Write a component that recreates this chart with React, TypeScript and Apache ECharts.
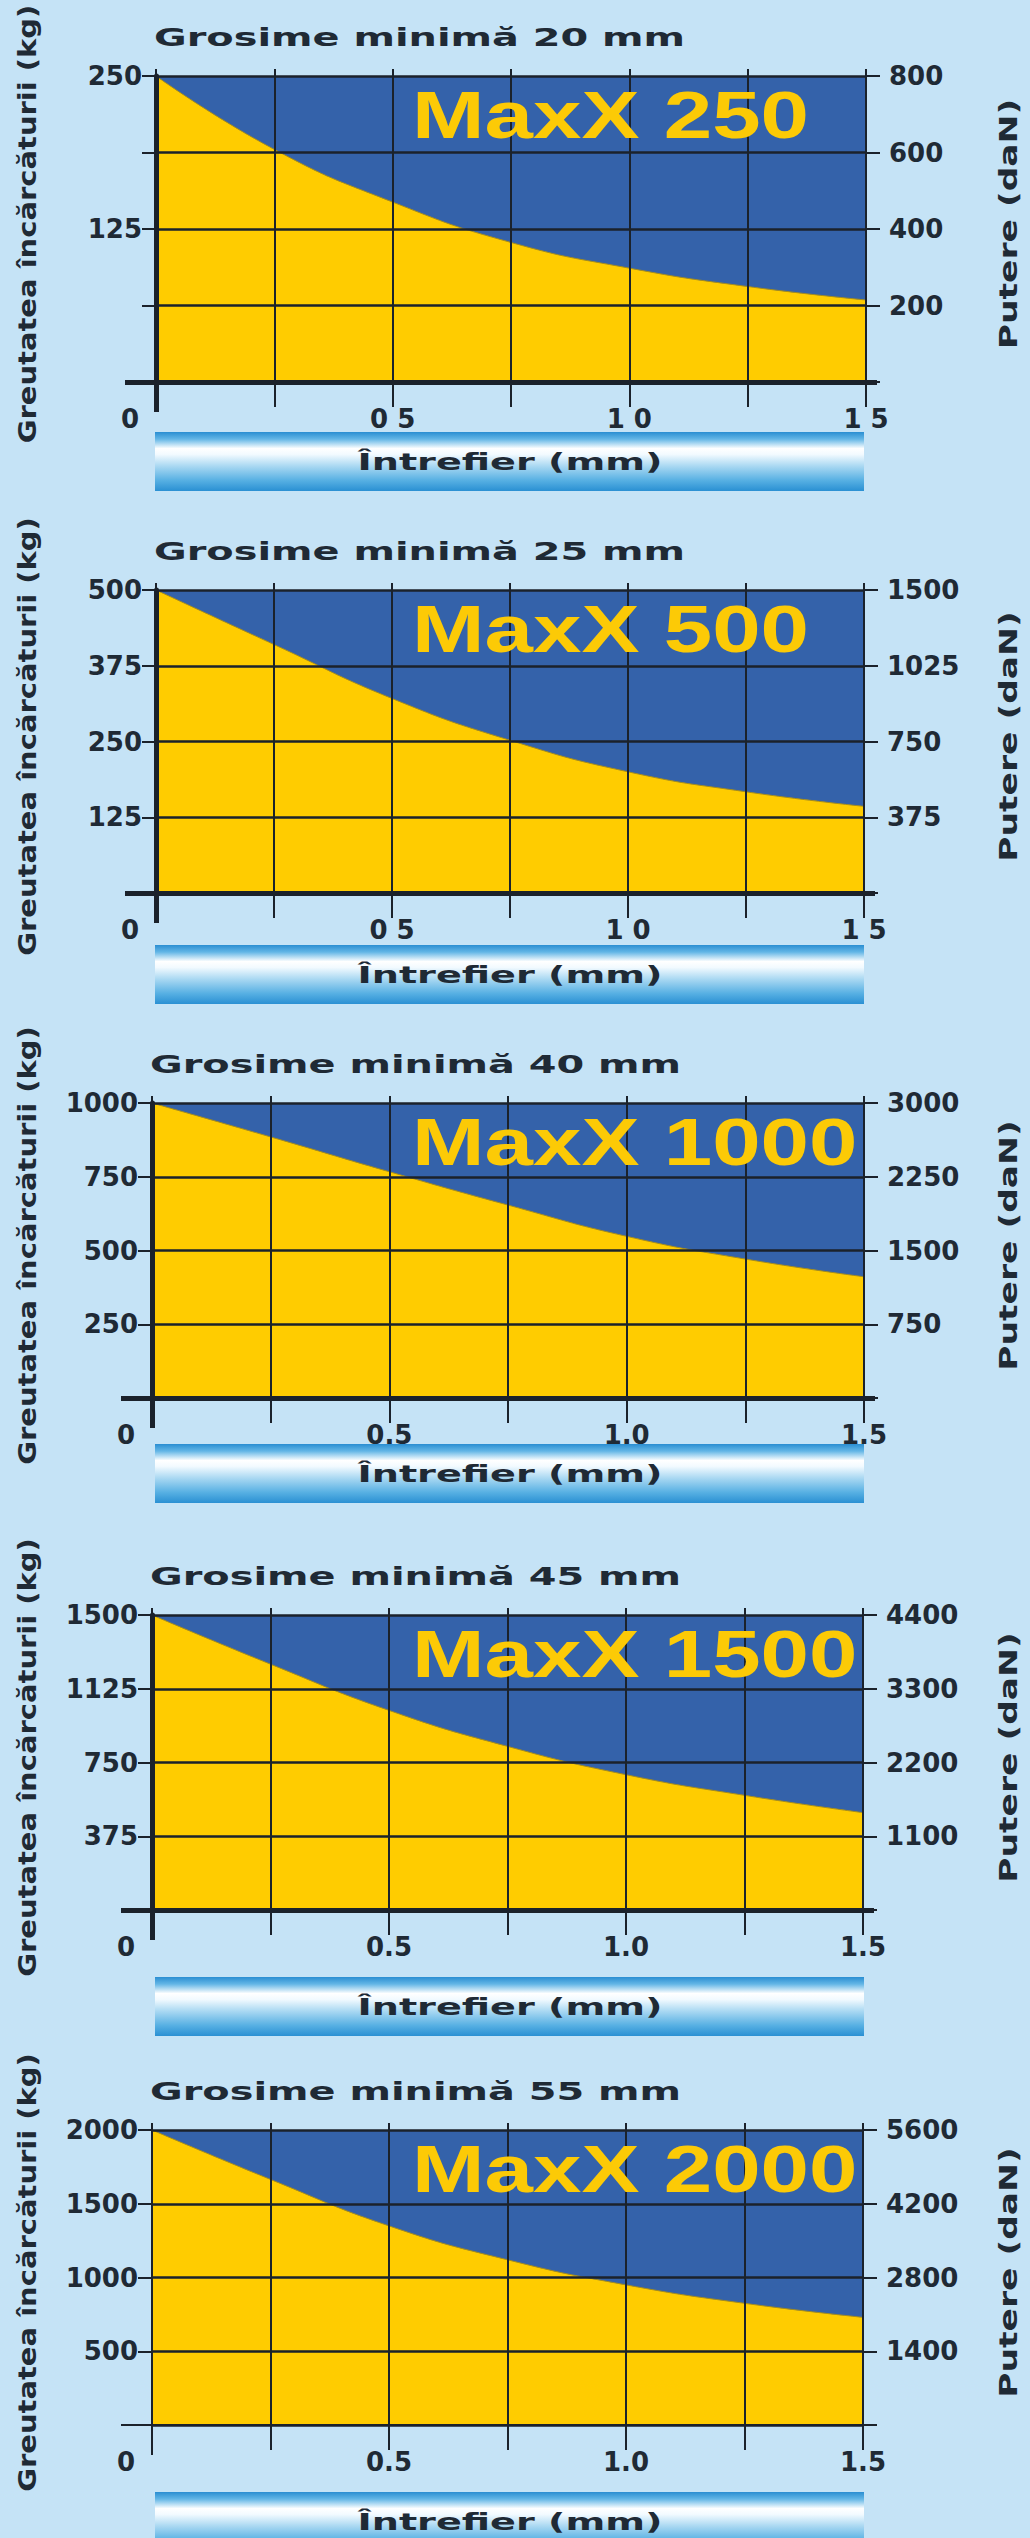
import React, { useEffect, useRef } from "react";
import * as echarts from "echarts";

// ---------- data ----------
const titles = [
  "Grosime minimă 20 mm",
  "Grosime minimă 25 mm",
  "Grosime minimă 40 mm",
  "Grosime minimă 45 mm",
  "Grosime minimă 55 mm",
];
const modelNames = ["MaxX 250", "MaxX 500", "MaxX 1000", "MaxX 1500", "MaxX 2000"];
const gapValues = [0, 0.25, 0.5, 0.75, 1.0, 1.25, 1.5];
const load250 = [250, 190, 147, 114, 93, 78, 67];
const load500 = [500, 410, 321, 252, 200, 167, 143];
const load1000 = [1000, 885, 767, 654, 548, 471, 411];
const load1500 = [1500, 1250, 1015, 832, 688, 583, 495];
const load2000 = [2000, 1665, 1350, 1120, 950, 825, 730];
const loads = [load250, load500, load1000, load1500, load2000];
const leftMax = [250, 500, 1000, 1500, 2000];
const leftTickLabels = [
  [125, 250],
  [125, 250, 375, 500],
  [250, 500, 750, 1000],
  [375, 750, 1125, 1500],
  [500, 1000, 1500, 2000],
];
const rightTickLabels = [
  ["", "200", "400", "600", "800"],
  ["", "375", "750", "1025", "1500"],
  ["", "750", "1500", "2250", "3000"],
  ["", "1100", "2200", "3300", "4400"],
  ["", "1400", "2800", "4200", "5600"],
];
const xTickValues = [0.5, 1.0, 1.5];
const xTickLabels = [
  ["0 5", "1 0", "1 5"],
  ["0 5", "1 0", "1 5"],
  ["0.5", "1.0", "1.5"],
  ["0.5", "1.0", "1.5"],
  ["0.5", "1.0", "1.5"],
];
const originLabel = "0";
const yAxisName = "Greutatea încărcăturii (kg)";
const y2AxisName = "Putere (daN)";
const xAxisName = "Întrefier (mm)";

// ---------- layout ----------
const gridLeft = [156, 156, 152, 152, 152];
const gridWidth = [710, 708, 712, 711, 711];
const gridTop = [76, 590, 1103, 1615, 2130];
const gridHeight = [306, 303, 295, 295, 295];
const barTop = [432, 945, 1444, 1977, 2492];
const axisW = [5, 5, 5, 5, 2];

const BG = "#c5e3f6";
const PLOT_BLUE = "#3462aa";
const YELLOW = "#ffcc00";
const DARK = "#1b222b";
const TEXT = "#1f2a35";
const TICK_FONT = "DejaVu Sans";
const HEAVY_FONT = "DejaVu Sans";
const MODEL_FONT = "Liberation Sans";

function buildOption() {
  const grid: any[] = [];
  const xAxis: any[] = [];
  const yAxis: any[] = [];
  const series: any[] = [];
  const graphic: any[] = [];

  const tickLabel = {
    fontFamily: TICK_FONT,
    fontWeight: "bold",
    fontSize: 26,
    color: TEXT,
  };

  const textStyle = (text: string, size: number, font: string, fill: string, align: string) => ({
    text,
    fill,
    fontFamily: font,
    fontWeight: "bold",
    fontSize: size,
    align,
    textAlign: align,
    verticalAlign: "middle",
    textVerticalAlign: "middle",
  });

  for (let i = 0; i < 5; i++) {
    grid.push({
      left: gridLeft[i],
      top: gridTop[i],
      width: gridWidth[i],
      height: gridHeight[i],
      show: true,
      backgroundColor: PLOT_BLUE,
      borderWidth: 0,
    });

    // main x axis
    xAxis.push({
      gridIndex: i,
      type: "value",
      min: 0,
      max: 1.5,
      interval: 0.25,
      position: "bottom",
      z: 3,
      axisLine: { show: true, onZero: false, lineStyle: { color: DARK, width: axisW[i] } },
      axisTick: { show: true, inside: false, length: 25, lineStyle: { color: DARK, width: 2 } },
      splitLine: { show: true, lineStyle: { color: DARK, width: 2 } },
      axisLabel: {
        ...tickLabel,
        margin: 24,
        showMinLabel: true,
        showMaxLabel: true,
        formatter: (v: number) => {
          const k = xTickValues.findIndex((t) => Math.abs(t - v) < 1e-6);
          return k >= 0 ? xTickLabels[i][k] : "";
        },
      },
    });
    // top extension ticks
    xAxis.push({
      gridIndex: i,
      type: "value",
      min: 0,
      max: 1.5,
      interval: 0.25,
      position: "top",
      z: 3,
      axisLine: { show: false, onZero: false },
      axisTick: { show: true, inside: false, length: 7, lineStyle: { color: DARK, width: 2 } },
      splitLine: { show: false },
      axisLabel: { show: false },
    });
    // bottom extension of the vertical axis + origin label
    xAxis.push({
      gridIndex: i,
      type: "value",
      min: 0,
      max: 1.5,
      interval: 1.5,
      position: "bottom",
      z: 4,
      axisLine: { show: false, onZero: false },
      axisTick: {
        show: true,
        inside: false,
        length: 30,
        customValues: [0],
        lineStyle: { color: DARK, width: axisW[i] },
      },
      splitLine: { show: false },
      axisLabel: {
        ...tickLabel,
        margin: 24,
        align: "right",
        padding: [0, 17, 0, 0],
        showMinLabel: true,
        showMaxLabel: true,
        formatter: (v: number) => (Math.abs(v) < 1e-6 ? originLabel : ""),
      },
    });

    // main left y axis
    yAxis.push({
      gridIndex: i,
      type: "value",
      min: 0,
      max: leftMax[i],
      interval: leftMax[i] / 4,
      position: "left",
      z: 3,
      axisLine: { show: true, onZero: false, lineStyle: { color: DARK, width: axisW[i] } },
      axisTick: { show: true, inside: false, length: 14, lineStyle: { color: DARK, width: 2 } },
      splitLine: { show: true, lineStyle: { color: DARK, width: 2.5 } },
      axisLabel: {
        ...tickLabel,
        margin: 14,
        padding: [10, 0, 0, 0],
        showMinLabel: true,
        showMaxLabel: true,
        formatter: (v: number) =>
          leftTickLabels[i].some((t) => Math.abs(t - v) < 1e-6) ? String(v) : "",
      },
    });
    // right y axis (Putere)
    yAxis.push({
      gridIndex: i,
      type: "value",
      min: 0,
      max: 4,
      interval: 1,
      position: "right",
      z: 3,
      axisLine: { show: false, onZero: false },
      axisTick: { show: true, inside: false, length: 14, lineStyle: { color: DARK, width: 2 } },
      splitLine: { show: false },
      axisLabel: {
        ...tickLabel,
        margin: 23,
        padding: [12, 0, 0, 0],
        showMinLabel: true,
        showMaxLabel: true,
        formatter: (v: number) => rightTickLabels[i][Math.round(v)] ?? "",
      },
    });
    // left extension of the horizontal axis
    yAxis.push({
      gridIndex: i,
      type: "value",
      min: 0,
      max: 1,
      interval: 1,
      position: "left",
      z: 4,
      axisLine: { show: false, onZero: false },
      axisTick: {
        show: true,
        inside: false,
        length: 31,
        customValues: [0],
        lineStyle: { color: DARK, width: axisW[i] },
      },
      splitLine: { show: false },
      axisLabel: { show: false },
    });
    // right extension of the horizontal axis
    yAxis.push({
      gridIndex: i,
      type: "value",
      min: 0,
      max: 1,
      interval: 1,
      position: "right",
      z: 4,
      axisLine: { show: false, onZero: false },
      axisTick: {
        show: true,
        inside: false,
        length: 11,
        customValues: [0],
        lineStyle: { color: DARK, width: axisW[i] },
      },
      splitLine: { show: false },
      axisLabel: { show: false },
    });

    series.push({
      type: "line",
      xAxisIndex: 3 * i,
      yAxisIndex: 4 * i,
      data: gapValues.map((x, k) => [x, loads[i][k]]),
      smooth: 0.5,
      symbol: "none",
      silent: true,
      z: 2,
      lineStyle: { color: "#a48c1e", width: 1 },
      areaStyle: { color: YELLOW, opacity: 1 },
    });

    const cy = gridTop[i] + gridHeight[i] / 2 - 5;

    graphic.push(
      {
        type: "text",
        x: gridLeft[i] - 2,
        y: gridTop[i] - 38,
        scaleX: 1.66,
        z: 20,
        style: textStyle(titles[i], 24, HEAVY_FONT, TEXT, "left"),
      },
      {
        type: "text",
        x: 412,
        y: gridTop[i] + 39,
        scaleX: 1.32,
        z: 20,
        style: textStyle(modelNames[i], 66, MODEL_FONT, "#fcca06", "left"),
      },
      {
        type: "text",
        x: 27,
        y: cy,
        rotation: Math.PI / 2,
        scaleX: 1.16,
        z: 20,
        style: textStyle(yAxisName, 25, HEAVY_FONT, TEXT, "center"),
      },
      {
        type: "text",
        x: 1008,
        y: cy,
        rotation: Math.PI / 2,
        scaleX: 1.38,
        z: 20,
        style: textStyle(y2AxisName, 25, HEAVY_FONT, TEXT, "center"),
      },
      {
        type: "rect",
        z: 15,
        shape: { x: 155, y: barTop[i], width: 709, height: 59 },
        style: {
          fill: {
            type: "linear",
            x: 0,
            y: 0,
            x2: 0,
            y2: 1,
            colorStops: [
              { offset: 0, color: "#2a8ed2" },
              { offset: 0.12, color: "#63b6e6" },
              { offset: 0.28, color: "#ffffff" },
              { offset: 0.38, color: "#f2faff" },
              { offset: 0.58, color: "#a9d8f2" },
              { offset: 0.82, color: "#57b0e3" },
              { offset: 1, color: "#2a90d3" },
            ],
          },
        },
      },
      {
        type: "text",
        x: 510,
        y: barTop[i] + 30,
        scaleX: 1.66,
        z: 20,
        style: textStyle(xAxisName, 23, HEAVY_FONT, TEXT, "center"),
      }
    );
  }

  return {
    animation: false,
    backgroundColor: BG,
    grid,
    xAxis,
    yAxis,
    series,
    graphic: { elements: graphic },
  };
}

export default function App() {
  const ref = useRef<HTMLDivElement>(null);
  useEffect(() => {
    if (!ref.current) return;
    const chart = echarts.init(ref.current, null, { renderer: "svg" });
    chart.setOption(buildOption() as any);
    return () => {
      chart.dispose();
    };
  }, []);
  return (
    <div
      ref={ref}
      style={{
        position: "absolute",
        left: 0,
        top: 0,
        width: 1030,
        height: 2538,
        background: BG,
      }}
    />
  );
}
